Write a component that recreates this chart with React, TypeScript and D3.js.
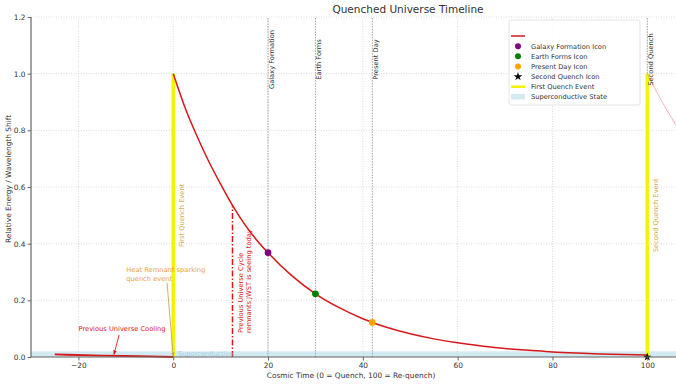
import React, { useRef, useEffect } from "react";
import * as d3 from "d3";

const W = 676;
const H = 384;

// energy decay after the first quench
const decayTime = [0, 2.5, 5, 7.5, 10, 12.5, 15, 17.5, 20, 25, 30, 35, 40, 42, 45, 50, 55, 60, 65, 70, 75, 80, 85, 90, 95, 100];
const decayEnergy = [1.0, 0.88, 0.78, 0.69, 0.61, 0.535, 0.47, 0.415, 0.368, 0.287, 0.223, 0.174, 0.135, 0.122, 0.105, 0.082, 0.064, 0.05, 0.039, 0.03, 0.024, 0.018, 0.014, 0.011, 0.009, 0.007];

// previous universe cooling tail
const prevTime = [-25, -15, -5, 0];
const prevEnergy = [0.009, 0.005, 0.002, 0.0];

// faint start of the next cycle after the second quench
const nextTime = [100, 102, 104, 106];
const nextEnergy = [1.0, 0.935, 0.875, 0.82];

// milestones
const milestoneLabels = ["Galaxy Formation", "Earth Forms", "Present Day"];
const milestoneTimes = [20, 30, 42];
const milestoneEnergy = [0.368, 0.223, 0.122];

// quench events
const quenchTimes = [0, 100];
const quenchLabels = ["First Quench Event", "Second Quench Event"];
const quenchPeak = 1.0;
const secondQuenchLabel = "Second Quench";

// JWST remnants marker
const jwstTime = 12.5;
const jwstEnergy = 0.535;

// superconductive band
const bandTop = 0.02;

const xTicks = [-20, 0, 20, 40, 60, 80, 100];
const yTicks = [0, 0.2, 0.4, 0.6, 0.8, 1.0, 1.2];

const legendLabels = ["", "Galaxy Formation Icon", "Earth Forms Icon", "Present Day Icon", "Second Quench Icon", "First Quench Event", "Superconductive State"];

const milestoneColors = ["#800080", "#008000", "#ffa500"];
const FONT = "DejaVu Sans, sans-serif";
const RED = "#d81818";
const GOLD = "#d2ae48";

export default function App() {
  const svgRef = useRef<SVGSVGElement>(null);

  useEffect(() => {
    const svg = d3.select(svgRef.current);
    svg.selectAll("*").remove();

    const x = d3.scaleLinear().domain([-30, 105]).range([31, 671]);
    const y = d3.scaleLinear().domain([0, 1.2]).range([357, 17]);
    const left = x(-30);
    const right = W;

    svg.append("rect").attr("width", W).attr("height", H).attr("fill", "#fff");

    // grid
    const grid = svg.append("g");
    grid.selectAll(".gx").data(xTicks).enter().append("line")
      .attr("x1", d => x(d)).attr("x2", d => x(d))
      .attr("y1", y(0)).attr("y2", y(1.2))
      .attr("stroke", "#d2d2d2").attr("stroke-width", 0.8).attr("stroke-dasharray", "1,1.5");
    grid.selectAll(".gy").data(yTicks).enter().append("line")
      .attr("x1", left).attr("x2", right)
      .attr("y1", d => y(d)).attr("y2", d => y(d))
      .attr("stroke", "#d2d2d2").attr("stroke-width", 0.8).attr("stroke-dasharray", "1,1.5");

    // superconductive band
    svg.append("rect")
      .attr("x", left).attr("y", y(bandTop))
      .attr("width", right - left).attr("height", y(0) - y(bandTop))
      .attr("fill", "#add8e6").attr("opacity", 0.55);

    // milestone + second quench dotted verticals
    svg.selectAll(".ml").data([...milestoneTimes, quenchTimes[1]]).enter().append("line")
      .attr("x1", d => x(d)).attr("x2", d => x(d))
      .attr("y1", y(0)).attr("y2", y(1.2))
      .attr("stroke", "#9a9a9a").attr("stroke-width", 0.9).attr("stroke-dasharray", "1.5,1.2");

    // yellow quench lines
    svg.selectAll(".q").data(quenchTimes).enter().append("line")
      .attr("x1", d => x(d)).attr("x2", d => x(d))
      .attr("y1", y(0)).attr("y2", y(quenchPeak))
      .attr("stroke", "#f4f400").attr("stroke-width", 3.5);

    const line = d3.line<[number, number]>().x(d => x(d[0])).y(d => y(d[1])).curve(d3.curveMonotoneX);

    // faint next-cycle curve
    svg.append("path")
      .attr("d", line(nextTime.map((t, i) => [t, nextEnergy[i]]) as [number, number][]))
      .attr("fill", "none").attr("stroke", "#e88a8a").attr("stroke-width", 0.9).attr("opacity", 0.7);

    // previous universe cooling
    svg.append("path")
      .attr("d", line(prevTime.map((t, i) => [t, prevEnergy[i]]) as [number, number][]))
      .attr("fill", "none").attr("stroke", RED).attr("stroke-width", 1.8);

    // main decay
    svg.append("path")
      .attr("d", line(decayTime.map((t, i) => [t, decayEnergy[i]]) as [number, number][]))
      .attr("fill", "none").attr("stroke", RED).attr("stroke-width", 1.5);

    // JWST dash-dot
    svg.append("line")
      .attr("x1", x(jwstTime)).attr("x2", x(jwstTime))
      .attr("y1", y(0)).attr("y2", y(jwstEnergy))
      .attr("stroke", RED).attr("stroke-width", 1.5).attr("stroke-dasharray", "6,2,1.5,2");

    // milestone markers
    svg.selectAll(".mk").data(milestoneTimes).enter().append("circle")
      .attr("cx", d => x(d)).attr("cy", (d, i) => y(milestoneEnergy[i]))
      .attr("r", 3.4).attr("fill", (d, i) => milestoneColors[i]);

    svg.append("path")
      .attr("d", d3.symbol().type(d3.symbolStar).size(22)())
      .attr("transform", `translate(${x(quenchTimes[1])},${y(0)})`)
      .attr("fill", "#000");

    const txt = (px: number, py: number, s: string, size: number, fill: string, rot = false, anchor = "start") => {
      const t = svg.append("text")
        .attr("font-family", FONT).attr("font-size", size).attr("fill", fill)
        .attr("text-anchor", anchor).text(s);
      if (rot) t.attr("transform", `translate(${px},${py}) rotate(-90)`);
      else t.attr("x", px).attr("y", py);
      return t;
    };

    // rotated milestone labels at top
    milestoneTimes.forEach((t, i) => txt(x(t) + 5.5, y(1.05), milestoneLabels[i], 6.7, "#333", true, "middle"));
    txt(x(quenchTimes[1]) + 5.5, y(1.05), secondQuenchLabel, 6.7, "#333", true, "middle");

    // quench event labels
    quenchTimes.forEach((t, i) => txt(x(t) + 11, y(0.5), quenchLabels[i], 6.7, GOLD, true, "middle"));

    // JWST remnants text
    txt(x(jwstTime) + 10.5, y(0.085), "Previous Universe Cycle", 6.7, RED, true);
    txt(x(jwstTime) + 18.5, y(0.085), "remnants JWST is seeing today", 6.7, RED, true);

    // superconductive text
    txt(x(1), y(0.005), "Superconductive", 6.6, "#a6d2e4");

    // arrows
    const defs = svg.append("defs");
    const mk = (id: string, color: string) => defs.append("marker")
      .attr("id", id).attr("viewBox", "0 0 10 10").attr("refX", 9).attr("refY", 5)
      .attr("markerWidth", 5).attr("markerHeight", 5).attr("orient", "auto")
      .append("path").attr("d", "M0,1 L10,5 L0,9 z").attr("fill", color);
    mk("arR", RED);
    mk("arO", "#c9a46a");

    svg.append("line")
      .attr("x1", x(-11.4)).attr("y1", y(0.078)).attr("x2", x(-12.5)).attr("y2", y(0.009))
      .attr("stroke", RED).attr("stroke-width", 0.9).attr("marker-end", "url(#arR)");
    txt(x(-10.8), y(0.092), "Previous Universe Cooling", 6.7, RED, false, "middle");

    svg.append("line")
      .attr("x1", x(-1.3)).attr("y1", y(0.262)).attr("x2", x(0)).attr("y2", y(0.002))
      .attr("stroke", "#c9a46a").attr("stroke-width", 0.9).attr("marker-end", "url(#arO)");
    txt(x(-9.9), y(0.30), "Heat Remnant sparking", 6.7, "#eea236");
    txt(x(-9.9), y(0.268), "quench event", 6.7, "#eea236");

    // axes
    const yAxis = svg.append("g")
      .attr("transform", `translate(${left},0)`)
      .call(d3.axisLeft(y).tickValues(yTicks).tickFormat(d3.format(".1f")).tickSize(3.5).tickPadding(2).tickSizeOuter(0));
    const xAxis = svg.append("g")
      .attr("transform", `translate(0,${y(0)})`)
      .call(d3.axisBottom(x).tickValues(xTicks).tickFormat(d => (+d < 0 ? "\u2212" + Math.abs(+d) : String(d))).tickSize(3.5).tickPadding(2).tickSizeOuter(0));
    [xAxis, yAxis].forEach(a => {
      a.select(".domain").remove();
      a.selectAll(".tick line").attr("stroke", "#555").attr("stroke-width", 0.9);
      a.selectAll("text").attr("fill", "#333").attr("font-family", FONT).attr("font-size", 7.4);
    });

    svg.append("line").attr("x1", left).attr("x2", left).attr("y1", y(0)).attr("y2", y(1.2))
      .attr("stroke", "#666").attr("stroke-width", 1.2);
    svg.append("line").attr("x1", left).attr("x2", right).attr("y1", y(0)).attr("y2", y(0))
      .attr("stroke", "#666").attr("stroke-width", 1.2);

    // labels and title
    txt(351, 378, "Cosmic Time (0 = Quench, 100 = Re-quench)", 7.4, "#333", false, "middle");
    txt(10.5, 179, "Relative Energy / Wavelength Shift", 7.4, "#333", true, "middle");
    txt(408, 13, "Quenched Universe Timeline", 10.5, "#333", false, "middle");

    // legend
    const lg = svg.append("g");
    lg.append("rect").attr("x", 509).attr("y", 20).attr("width", 131).attr("height", 85)
      .attr("rx", 2).attr("fill", "#fff").attr("fill-opacity", 0.85).attr("stroke", "#ddd").attr("stroke-width", 0.8);
    const rowY = (i: number) => 36 + i * 10.15;
    lg.append("line").attr("x1", 511).attr("x2", 525).attr("y1", rowY(0)).attr("y2", rowY(0)).attr("stroke", RED).attr("stroke-width", 1.5);
    milestoneColors.forEach((c, i) => lg.append("circle").attr("cx", 518).attr("cy", rowY(i + 1)).attr("r", 3).attr("fill", c));
    lg.append("path").attr("d", d3.symbol().type(d3.symbolStar).size(24)()).attr("transform", `translate(518,${rowY(4)})`).attr("fill", "#000");
    lg.append("line").attr("x1", 511).attr("x2", 525).attr("y1", rowY(5)).attr("y2", rowY(5)).attr("stroke", "#f4f400").attr("stroke-width", 2.5);
    lg.append("rect").attr("x", 511).attr("y", rowY(6) - 3).attr("width", 14).attr("height", 5.5).attr("fill", "#add8e6").attr("opacity", 0.55);
    legendLabels.forEach((s, i) => {
      if (!s) return;
      lg.append("text").attr("x", 531).attr("y", rowY(i) + 2.4)
        .attr("font-family", FONT).attr("font-size", 6.7).attr("fill", "#333").text(s);
    });
  }, []);

  return (
    <div style={{ position: "absolute", left: 0, top: 0 }}>
      <svg ref={svgRef} width={W} height={H} style={{ display: "block" }}></svg>
    </div>
  );
}
